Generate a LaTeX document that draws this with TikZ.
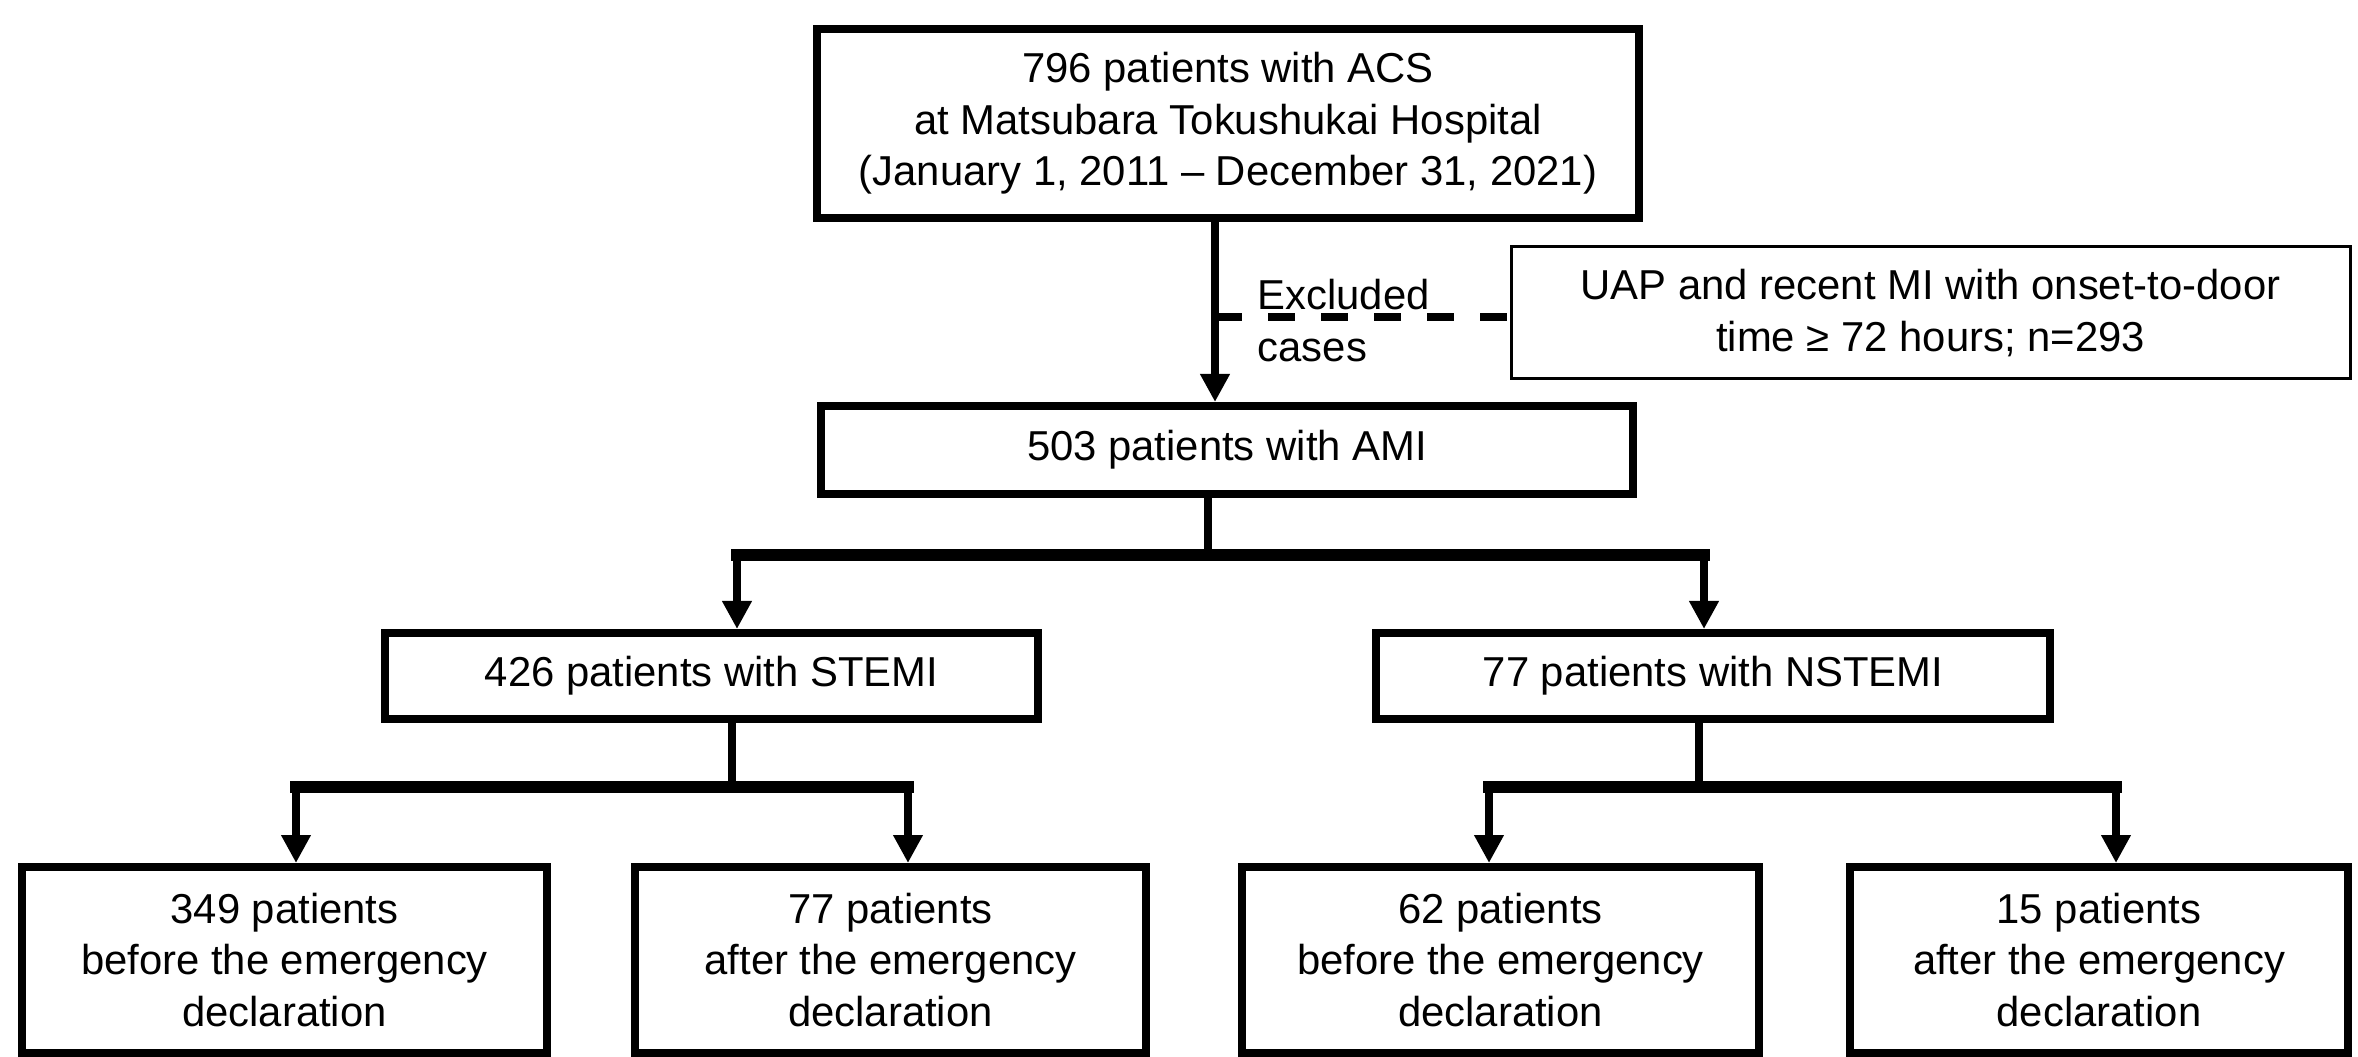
\documentclass[tikz,border=0pt]{standalone}
\usepackage{fontspec}
\setmainfont{Liberation Sans}
\usepackage{tikz}
\usetikzlibrary{arrows.meta}
\newcommand{\fsz}{\fontsize{11.9pt}{14.6pt}\selectfont}

\begin{document}
\begin{tikzpicture}[
    box/.style = {draw, line width=0.08cm, inner sep=0pt, align=center, font=\fsz},
    conn/.style = {line width=0.08cm},
    arr/.style = {conn, -{Triangle[width=0.28cm, length=0.28cm]}},
    bar/.style = {line width=0.12cm, line cap=rect}
  ]
    \useasboundingbox (0,0) rectangle (23.58,-10.57);
    \node[box, minimum width=8.22cm, minimum height=1.89cm] (acs) at (12.28,-1.235) {796 patients with ACS\\at Matsubara Tokushukai Hospital\\(January 1, 2011 -- December 31, 2021)};
    \node[box, line width=0.03cm, minimum width=8.39cm, minimum height=1.32cm] (excl) at (19.305,-3.13) {UAP and recent MI with onset-to-door\\time ≥ 72 hours; n=293};
    \node[box, minimum width=8.12cm, minimum height=0.88cm] (ami) at (12.27,-4.50) {503 patients with AMI};
    \node[box, minimum width=6.53cm, minimum height=0.86cm] (stemi) at (7.115,-6.76) {426 patients with STEMI};
    \node[box, minimum width=6.74cm, minimum height=0.86cm] (nstemi) at (17.13,-6.76) {77 patients with NSTEMI};
    \foreach \n/\x/\w/\k/\t in {b1/2.845/5.25/349/before, b2/8.905/5.11/77/after, b3/15.005/5.17/62/before, b4/20.99/4.98/15/after} {
      \node[box, minimum width=\w cm, minimum height=1.86cm] (\n) at (\x,-9.60) {\k\ patients\\\t\ the emergency\\declaration};
    }
    \node[font=\fsz, align=left, anchor=west, inner sep=0pt] (exlab) at (12.57,-3.205) {Excluded\\cases};

    \coordinate (c0) at (12.15,-3.17);
    \draw[arr] (acs.south -| c0) -- (ami.north -| c0);
    \draw[conn, dash pattern=on 0.27cm off 0.26cm] (c0) -- (c0 -| excl.west);

    \coordinate (s0) at (12.08,-5.55);
    \coordinate (sL) at (7.37,-5.55);
    \coordinate (sR) at (17.04,-5.55);
    \draw[conn] (ami.south -| s0) -- (s0);
    \draw[bar] (sL) -- (sR);
    \draw[arr] (sL) -- (sL |- stemi.north);
    \draw[arr] (sR) -- (sR |- nstemi.north);

    \foreach \p/\q/\r/\xs/\xl/\xr in {stemi/b1/b2/7.32/2.96/9.08, nstemi/b3/b4/16.99/14.89/21.16} {
      \coordinate (\p-j) at (\xs,-7.87);
      \coordinate (\p-l) at (\xl,-7.87);
      \coordinate (\p-r) at (\xr,-7.87);
      \draw[conn] (\p.south -| \p-j) -- (\p-j);
      \draw[bar] (\p-l) -- (\p-r);
      \draw[arr] (\p-l) -- (\p-l |- \q.north);
      \draw[arr] (\p-r) -- (\p-r |- \r.north);
    }
  \end{tikzpicture}
\end{document}
